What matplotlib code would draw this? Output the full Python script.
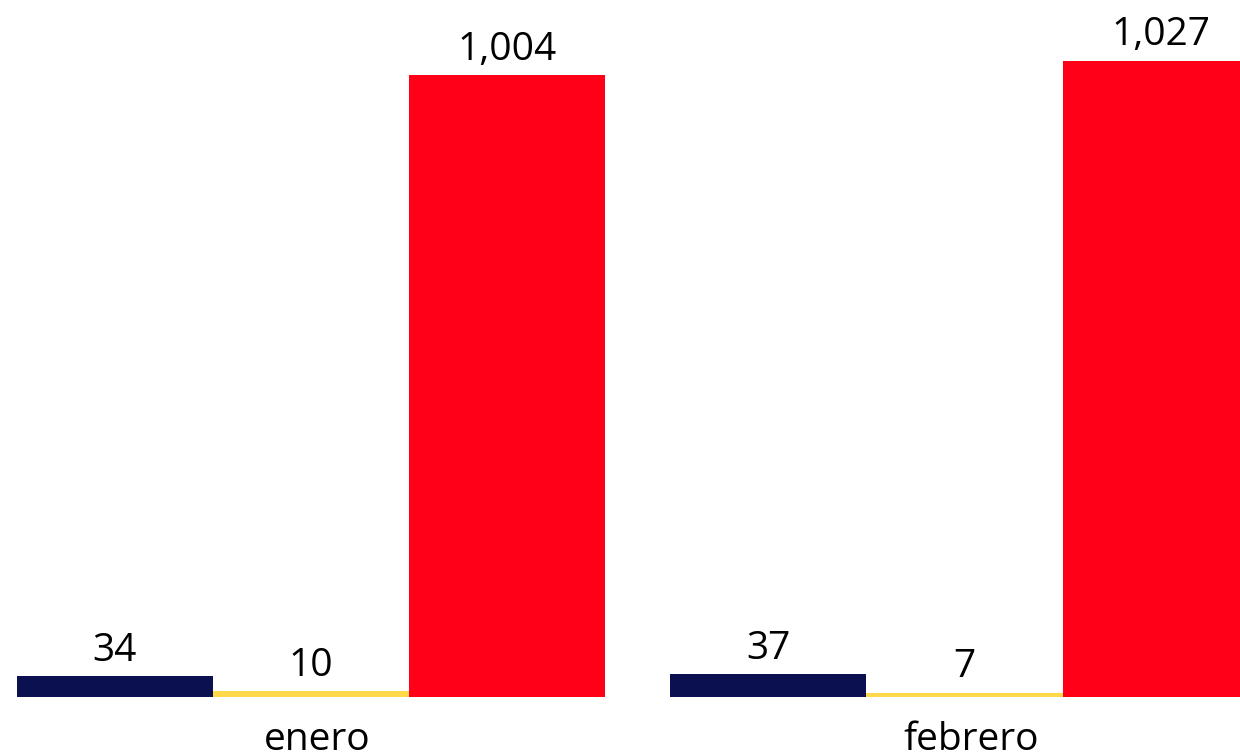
import numpy as np
import matplotlib.pyplot as plt

meses = ['enero', 'febrero']
serie_a = [34, 37]
serie_b = [10, 7]
serie_c = [1004, 1027]

colores = ['#0b1150', '#ffd94a', '#ff0016']

plt.rcParams['font.family'] = ['Open Sans', 'DejaVu Sans']

fig = plt.figure(figsize=(12.4, 7.52), dpi=100)
ax = fig.add_axes([0, 0, 1, 1])

x = np.arange(len(meses))
w = 0.3
for i, (vals, col) in enumerate(zip([serie_a, serie_b, serie_c], colores)):
    bars = ax.bar(x + (i - 1) * w, vals, width=w, color=col, linewidth=0)
    for b, v in zip(bars, vals):
        ax.annotate(f'{v:,}', (b.get_x() + b.get_width() / 2, v),
                    xytext=(0, 11), textcoords='offset points',
                    ha='center', va='baseline', fontsize=28, color='black')

for xi, m in zip(x, meses):
    ax.text(xi + 0.01, -85, m, ha='center', va='baseline', fontsize=28, color='black')

ax.set_xlim(-0.4759, 1.4216)
ax.set_ylim(-88.8, 1125)
ax.axis('off')

fig.savefig('out.png', dpi=100)
